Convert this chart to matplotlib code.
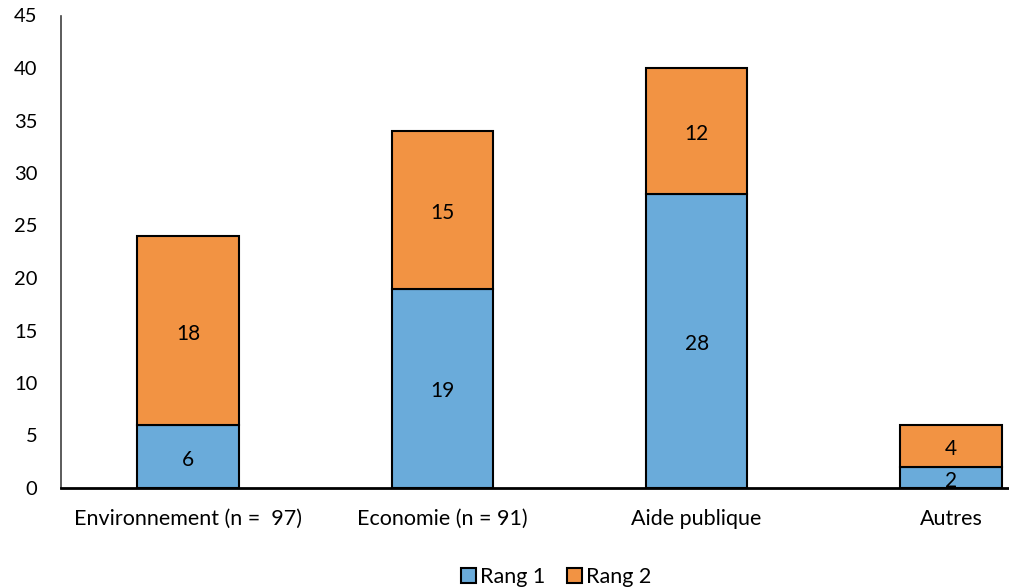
import matplotlib
matplotlib.use("Agg")
import matplotlib.pyplot as plt
import numpy as np
from matplotlib.patches import Patch

categories = ["Environnement (n =  97)", "Economie (n = 91)", "Aide publique", "Autres"]
rang1 = [6, 19, 28, 2]
rang2 = [18, 15, 12, 4]
series_names = ["Rang 1", "Rang 2"]
yticks = [0, 5, 10, 15, 20, 25, 30, 35, 40, 45]

blue = "#6AABDA"
orange = "#F29343"

plt.rcParams["font.family"] = ["Lato", "DejaVu Sans"]

W, H = 1009, 588
fig = plt.figure(figsize=(W / 100, H / 100), dpi=100)
left, bottom_px, top_px, right_px = 61, 488, 15.5, 1078
ax = fig.add_axes([left / W, (H - bottom_px) / H, (right_px - left) / W, (bottom_px - top_px) / H])

x = np.arange(len(categories))
width = 0.4
ax.bar(x, rang1, width, color=blue, edgecolor="black", linewidth=1.5, zorder=2)
ax.bar(x, rang2, width, bottom=rang1, color=orange, edgecolor="black", linewidth=1.5, zorder=2)

for xi, v1, v2 in zip(x, rang1, rang2):
    for yc, v in ((v1 / 2, v1), (v1 + v2 / 2, v2)):
        ax.annotate(str(v), (xi, yc), xytext=(0, -2.2), textcoords="offset points",
                    ha="center", va="center", fontsize=15, zorder=3)

ax.set_xlim(-0.5, len(categories) - 0.5)
ax.set_ylim(0, 45)
ax.set_yticks(yticks)
ax.set_xticks(x)
ax.set_xticklabels(categories, fontsize=15.5)
ax.tick_params(axis="y", length=0, pad=17, labelsize=14.5)
ax.tick_params(axis="x", length=0, pad=15)

for s in ["top", "right"]:
    ax.spines[s].set_visible(False)
ax.spines["left"].set_color("#404040")
ax.spines["left"].set_linewidth(1.2)
ax.spines["bottom"].set_color("black")
ax.spines["bottom"].set_linewidth(2)

handles = [Patch(facecolor=blue, edgecolor="black", linewidth=1.5),
           Patch(facecolor=orange, edgecolor="black", linewidth=1.5)]
fig.legend(handles, series_names, loc="center", bbox_to_anchor=(556 / W, 1 - 577 / H),
           ncol=2, frameon=False, fontsize=15.5, handlelength=0.7, handleheight=0.7,
           handletextpad=0.2, columnspacing=1.0)

fig.savefig("out.png", dpi=100)
